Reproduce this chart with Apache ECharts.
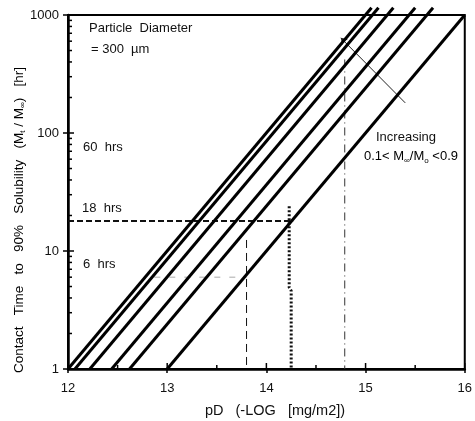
<!DOCTYPE html>
<html><head><meta charset="utf-8">
<script src="https://cdn.jsdelivr.net/npm/echarts@6/dist/echarts.min.js"></script>
<style>html,body{margin:0;padding:0;background:#fff}#c{width:475px;height:421px}</style>
</head><body><div id="c"></div>
<script>
// ---- data ----
const lineStartPD = [12.0, 12.07, 12.22, 12.44, 12.62, 13.0];
const lineStartTime = [1, 1, 1, 1, 1, 1];
const lineEndPD = [15.06, 15.13, 15.28, 15.5, 15.68, 16.0];
const lineEndTime = [1150, 1150, 1150, 1150, 1150, 1000];

const h18PD = [12, 14.27];        const h18Time = [18, 18];
const v138PD = [13.8, 13.8];      const v138Time = [12.4, 1];
const h6PD = [12.87, 13.8];       const h6Time = [6, 6];
const vDotPD = [14.23, 14.23, 14.25, 14.25]; const vDotTime = [24, 4.9, 4.6, 1];
const vDashDotPD = [14.79, 14.79]; const vDashDotTime = [420, 1];
const arrowPD = [15.4, 14.75];    const arrowTime = [180, 640];

const xMajorTicks = [12, 13, 14, 15, 16];
const xMinorTicks = [12.5, 13.5, 14.5, 15.5];
const yMajorTicks = [1, 10, 100, 1000];
const yMinorTicks = [2,3,4,5,6,7,8,9,20,30,40,50,60,70,80,90,200,300,400,500,600,700,800,900];

const FONT = '"Liberation Sans", Arial, Helvetica, sans-serif';
const zip = (a, b) => a.map((v, i) => [v, b[i]]);

const chart = echarts.init(document.getElementById('c'), null, {renderer: 'canvas'});

const series = [];
lineStartPD.forEach((s, i) => {
  series.push({
    type: 'line', data: [[s, lineStartTime[i]], [lineEndPD[i], lineEndTime[i]]],
    symbol: 'none', clip: false, silent: true,
    lineStyle: {color: '#000', width: 3}
  });
});
function guide(xs, ys, style) {
  series.push({type: 'line', data: zip(xs, ys), symbol: 'none', clip: false, silent: true, lineStyle: style, z: 1});
}
guide(h18PD, h18Time, {color: '#111', width: 2, type: [6, 3]});
guide(v138PD, v138Time, {color: '#111', width: 1, type: [8, 5]});
guide(h6PD, h6Time, {color: '#aaa', width: 1, type: [6, 9]});
guide(vDotPD, vDotTime, {color: '#111', width: 3, type: [2, 2]});
guide(vDashDotPD, vDashDotTime, {color: '#333', width: 1, type: [8, 4, 1, 4]});
series.push({
  type: 'lines', coordinateSystem: 'cartesian2d', silent: true, z: 3,
  data: [{coords: zip(arrowPD, arrowTime)}],
  symbol: ['none', 'arrow'], symbolSize: 6,
  lineStyle: {color: '#222', width: 1, opacity: 1}
});
// inward ticks
function tickSeries(points, dx, dy) {
  series.push({
    type: 'custom', silent: true, clip: false, z: 5,
    data: points,
    renderItem: function (params, api) {
      const p = api.coord([api.value(0), api.value(1)]);
      return {type: 'line', shape: {x1: p[0], y1: p[1], x2: p[0] + dx, y2: p[1] + dy},
              style: {stroke: '#000', lineWidth: 1.5}};
    }
  });
}
tickSeries(yMinorTicks.map(v => [12, v]), 4, 0);
tickSeries(yMajorTicks.map(v => [12, v]), 6, 0);
tickSeries(xMinorTicks.map(v => [v, 1]), 0, -4);
tickSeries(xMajorTicks.map(v => [v, 1]), 0, -6);

const option = {
  animation: false,
  backgroundColor: '#fff',
  grid: {left: 68, right: 10, top: 15, bottom: 52, show: true, borderColor: '#000', borderWidth: 2, backgroundColor: 'transparent'},
  xAxis: {
    type: 'value', min: 12, max: 16, interval: 1,
    axisLine: {lineStyle: {color: '#000', width: 2.5}},
    axisTick: {show: true, length: 4, lineStyle: {color: '#000', width: 1.5}},
    splitLine: {show: false},
    axisLabel: {color: '#111', fontFamily: FONT, fontSize: 13, margin: 13}
  },
  yAxis: {
    type: 'log', logBase: 10, min: 1, max: 1000,
    axisLine: {show: true, lineStyle: {color: '#000', width: 2.5}},
    axisTick: {show: true, length: 5, lineStyle: {color: '#000', width: 1.5}},
    splitLine: {show: false},
    axisLabel: {color: '#111', fontFamily: FONT, fontSize: 13, margin: 9, formatter: v => String(v)}
  },
  graphic: [
    {type: 'text', left: 89, top: 22, style: {text: 'Particle  Diameter', font: '13px ' + FONT, fill: '#111'}},
    {type: 'text', left: 91, top: 43, style: {text: '= 300  µm', font: '13px ' + FONT, fill: '#111'}},
    {type: 'text', left: 83, top: 141, style: {text: '60  hrs', font: '13px ' + FONT, fill: '#111'}},
    {type: 'text', left: 82, top: 202, style: {text: '18  hrs', font: '13px ' + FONT, fill: '#111'}},
    {type: 'text', left: 83, top: 258, style: {text: '6  hrs', font: '13px ' + FONT, fill: '#111'}},
    {type: 'text', left: 376, top: 131, style: {text: 'Increasing', font: '13px ' + FONT, fill: '#111'}},
    {type: 'text', left: 364, top: 150, style: {
      text: '{n|0.1< M}{s|∞}{n|/M}{s|o}{n| <0.9}',
      rich: {n: {fontSize: 13, fontFamily: FONT, color: '#111'},
             s: {fontSize: 8, fontFamily: FONT, color: '#111', padding: [8, 0, 0, 0]}}
    }},
    {type: 'text', x: 275, y: 411, style: {text: 'pD   (-LOG   [mg/m2])', font: '14.5px ' + FONT, fill: '#111', align: 'center', verticalAlign: 'middle'}},
    {type: 'text', x: 19, y: 220, rotation: Math.PI / 2, style: {
      text: '{n|Contact   Time   to   90%   Solubility   (M}{s|t}{n| / M}{s|∞}{n|)   [hr]}',
      align: 'center', verticalAlign: 'middle',
      rich: {n: {fontSize: 13.5, fontFamily: FONT, color: '#111'},
             s: {fontSize: 8, fontFamily: FONT, color: '#111', padding: [8, 0, 0, 0]}}
    }}
  ],
  series: series
};
chart.setOption(option);
</script>
</body></html>
